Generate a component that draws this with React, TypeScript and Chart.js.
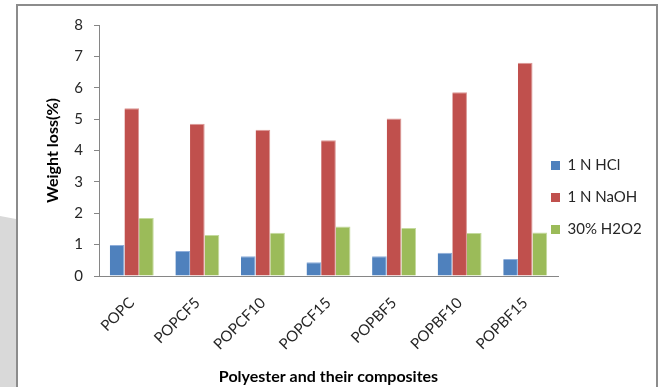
import React, { useEffect, useRef } from "react";
import { Chart, registerables } from "chart.js";

Chart.register(...registerables);

// Samples and measured weight loss (%) after immersion in each reagent
const categories = ["POPC", "POPCF5", "POPCF10", "POPCF15", "POPBF5", "POPBF10", "POPBF15"];
const seriesNames = ["1 N HCl", "1 N NaOH", "30% H2O2"];
const hclLoss = [0.99, 0.8, 0.63, 0.44, 0.63, 0.74, 0.54];
const naohLoss = [5.35, 4.85, 4.66, 4.33, 5.02, 5.86, 6.8];
const h2o2Loss = [1.85, 1.31, 1.38, 1.58, 1.53, 1.37, 1.39];
const yTicks = [0, 1, 2, 3, 4, 5, 6, 7, 8];

const FONT = "Lato, 'Open Sans', sans-serif";
const AXIS_GRAY = "#868686";
const TEXT = "#262626";
const barEdge = { top: 1, right: 1, left: 0, bottom: 0 };

// Page backdrop: white card with a grey frame and a grey strip at lower left
const framePlugin = {
  id: "frame",
  beforeDraw(chart: any) {
    const { ctx, width, height } = chart;
    ctx.save();
    ctx.fillStyle = "#ffffff";
    ctx.fillRect(0, 0, width, height);
    ctx.fillStyle = "#d9d9d9";
    ctx.beginPath();
    ctx.moveTo(0, 216);
    ctx.lineTo(16, 219);
    ctx.lineTo(16, height);
    ctx.lineTo(0, height);
    ctx.closePath();
    ctx.fill();
    ctx.strokeStyle = "#8c8c8c";
    ctx.lineWidth = 2;
    ctx.strokeRect(17, 5, 640, height + 20);
    ctx.restore();
  },
};

// Put the legend to the right of the plot, vertically centred on the bars
const legendPlacer = {
  id: "legendPlacer",
  afterLayout(chart: any) {
    const lg = chart.legend;
    if (!lg) return;
    lg.left = 534;
    lg.right = 661;
    lg.top = 141;
    lg.bottom = 387;
    lg.width = lg.right - lg.left;
    lg.height = lg.bottom - lg.top;
  },
};

export default function App() {
  const canvasRef = useRef<HTMLCanvasElement | null>(null);

  useEffect(() => {
    const canvas = canvasRef.current;
    if (!canvas) return;
    const chart = new Chart(canvas, {
      type: "bar",
      data: {
        labels: categories,
        datasets: [
          {
            label: seriesNames[0],
            data: hclLoss,
            backgroundColor: "#4F81BD",
            borderColor: "#8FAEDA",
            borderWidth: barEdge,
          },
          {
            label: seriesNames[1],
            data: naohLoss,
            backgroundColor: "#C0504D",
            borderColor: "#DB9795",
            borderWidth: barEdge,
          },
          {
            label: seriesNames[2],
            data: h2o2Loss,
            backgroundColor: "#9BBB59",
            borderColor: "#C4DA9E",
            borderWidth: barEdge,
          },
        ],
      },
      options: {
        responsive: false,
        animation: false,
        devicePixelRatio: 1,
        layout: { padding: { left: 0, top: 25, right: 103, bottom: 0 } },
        datasets: {
          bar: { barPercentage: 1, categoryPercentage: 0.67 },
        },
        plugins: {
          tooltip: { enabled: false },
          legend: {
            position: "chartArea" as any,
            align: "start",
            labels: {
              boxWidth: 9,
              boxHeight: 9,
              padding: 17,
              color: TEXT,
              font: { family: FONT, size: 15 },
              generateLabels(chart: any) {
                return chart.data.datasets.map((ds: any, i: number) => ({
                  text: ds.label,
                  fillStyle: ds.backgroundColor,
                  strokeStyle: ds.backgroundColor,
                  lineWidth: 0,
                  hidden: false,
                  datasetIndex: i,
                  fontColor: TEXT,
                }));
              },
            },
          },
        },
        scales: {
          x: {
            grid: { display: false },
            border: { color: AXIS_GRAY, width: 1 },
            ticks: {
              color: TEXT,
              font: { family: FONT, size: 15 },
              minRotation: 45,
              maxRotation: 45,
              padding: 10,
            },
            title: {
              display: true,
              text: "Polyester and their composites",
              color: "#000",
              font: { family: FONT, size: 16, weight: "bold" },
              padding: { top: 0, bottom: 1 },
            },
            afterFit(scale: any) {
              scale.height = 111;
            },
          },
          y: {
            min: 0,
            max: 8,
            grid: {
              drawOnChartArea: false,
              drawTicks: true,
              tickLength: 5,
              color: AXIS_GRAY,
            },
            border: { color: AXIS_GRAY, width: 1 },
            afterBuildTicks(scale: any) {
              scale.ticks = yTicks.map((v) => ({ value: v }));
            },
            ticks: {
              color: TEXT,
              font: { family: FONT, size: 15 },
              padding: 11,
            },
            title: {
              display: true,
              text: "Weight loss(%)",
              color: "#000",
              font: { family: FONT, size: 16, weight: "bold" },
              padding: { top: 43, bottom: 0 },
            },
            afterFit(scale: any) {
              scale.width = 99;
            },
          },
        },
      },
      plugins: [framePlugin, legendPlacer],
    });
    return () => chart.destroy();
  }, []);

  return (
    <div style={{ position: "fixed", left: 0, top: 0, width: 661, height: 387 }}>
      <canvas ref={canvasRef} width={661} height={387} />
    </div>
  );
}
